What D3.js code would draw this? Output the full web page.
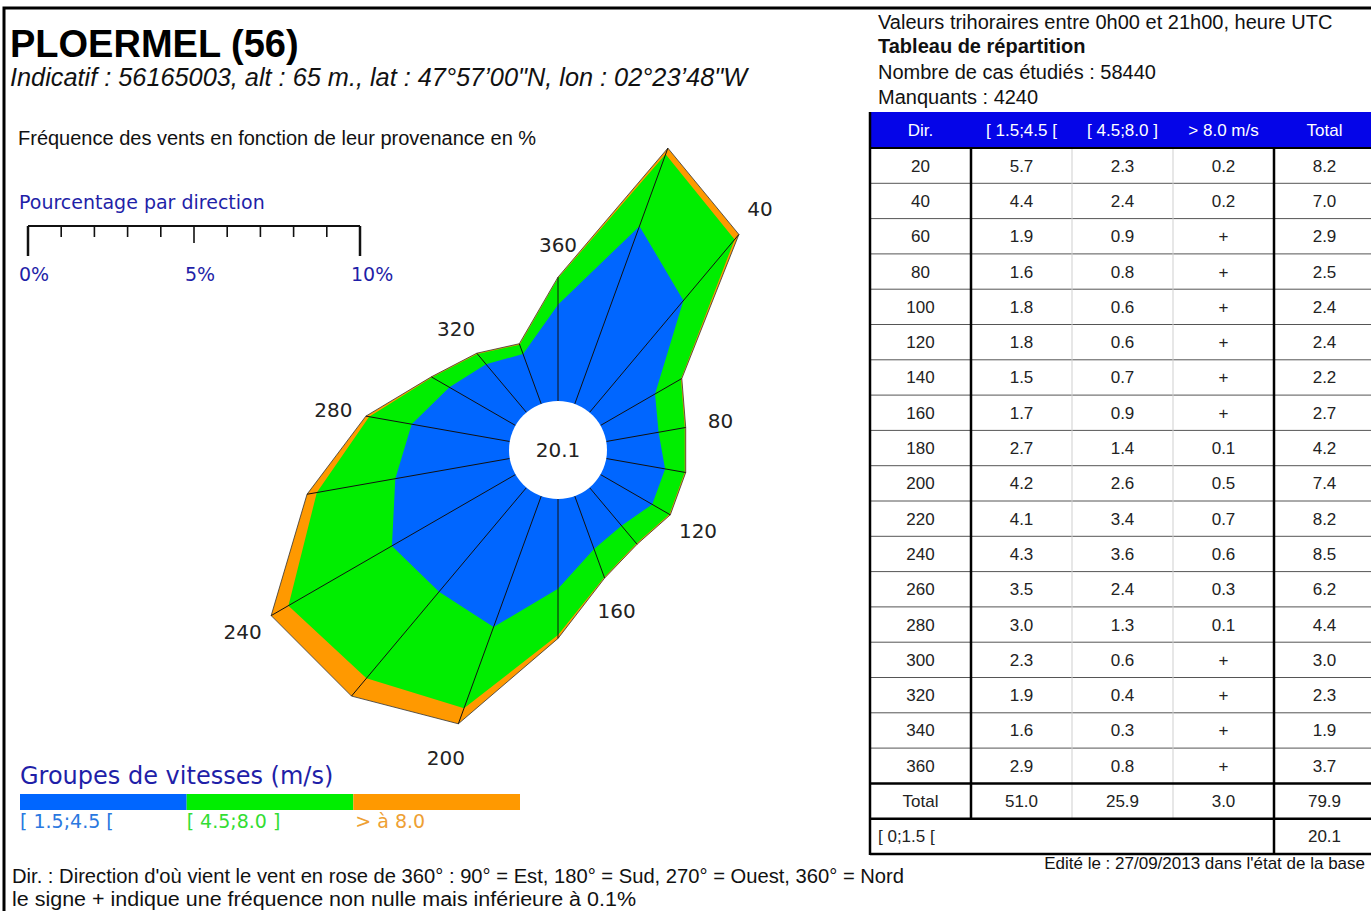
<!DOCTYPE html>
<html>
<head>
<meta charset="utf-8">
<script src="https://cdn.jsdelivr.net/npm/d3@7/dist/d3.min.js"></script>
<style>
  html, body { margin: 0; padding: 0; background: #fff; }
  svg { display: block; }
</style>
</head>
<body>
<svg id="chart" width="1371" height="911"></svg>
<script>
// ---------------- DATA ----------------
const directions = [20, 40, 60, 80, 100, 120, 140, 160, 180, 200, 220, 240, 260, 280, 300, 320, 340, 360];
const lowVals  = [5.7, 4.4, 1.9, 1.6, 1.8, 1.8, 1.5, 1.7, 2.7, 4.2, 4.1, 4.3, 3.5, 3.0, 2.3, 1.9, 1.6, 2.9];
const midVals  = [2.3, 2.4, 0.9, 0.8, 0.6, 0.6, 0.7, 0.9, 1.4, 2.6, 3.4, 3.6, 2.4, 1.3, 0.6, 0.4, 0.3, 0.8];
const highVals = [0.2, 0.2, 0.03, 0.03, 0.03, 0.03, 0.03, 0.03, 0.1, 0.5, 0.7, 0.6, 0.3, 0.1, 0.03, 0.03, 0.03, 0.03];
const highLabels = ["0.2", "0.2", "+", "+", "+", "+", "+", "+", "0.1", "0.5", "0.7", "0.6", "0.3", "0.1", "+", "+", "+", "+"];
const totalVals = [8.2, 7.0, 2.9, 2.5, 2.4, 2.4, 2.2, 2.7, 4.2, 7.4, 8.2, 8.5, 6.2, 4.4, 3.0, 2.3, 1.9, 3.7];
const columnTotals = ["51.0", "25.9", "3.0", "79.9"];
const calmValue = "20.1";
const tableHeaders = ["Dir.", "[ 1.5;4.5 [", "[ 4.5;8.0 ]", "> 8.0 m/s", "Total"];
const labelDirs = [40, 80, 120, 160, 200, 240, 280, 320, 360];
const scaleTicks = [0, 1, 2, 3, 4, 5, 6, 7, 8, 9, 10];
const scaleLabels = [0, 5, 10];
const speedGroups = ["[ 1.5;4.5 [", "[ 4.5;8.0 ]", "> à 8.0"];
const speedColors = ["#0066ff", "#00ee00", "#ff9900"];
const speedTextColors = ["#2a78e0", "#33dd33", "#eea033"];

// ---------------- SETUP ----------------
const svg = d3.select("#chart");
const SANS = "'Liberation Sans', Arial, sans-serif";
const DJV = "'DejaVu Sans', Verdana, sans-serif";

// frame
svg.append("path").attr("d", "M4,911 L4,8 L1371,8")
  .attr("fill", "none").attr("stroke", "#000").attr("stroke-width", 3);

// titles
svg.append("text").attr("x", 10).attr("y", 57).text("PLOERMEL (56)")
  .attr("font-family", SANS).attr("font-weight", "bold").attr("font-size", 38).attr("fill", "#000");
svg.append("text").attr("x", 10).attr("y", 86)
  .text("Indicatif : 56165003, alt : 65 m., lat : 47°57’00\"N, lon : 02°23’48\"W")
  .attr("font-family", SANS).attr("font-style", "italic").attr("font-size", 25.3).attr("fill", "#111");
svg.append("text").attr("x", 18).attr("y", 145)
  .text("Fréquence des vents en fonction de leur provenance en %")
  .attr("font-family", SANS).attr("font-size", 20).attr("fill", "#111");

// ---------------- ROSE ----------------
const cx = 558, cy = 450;
const r = d3.scaleLinear().domain([0, 10]).range([49, 381]);
const rad = d => d * Math.PI / 180;
const pt = (dir, v) => [cx + r(v) * Math.sin(rad(dir)), cy - r(v) * Math.cos(rad(dir))];

const cumLow = lowVals;
const cumMid = lowVals.map((v, i) => v + midVals[i]);
const cumHigh = cumMid.map((v, i) => v + highVals[i]);

const line = d3.line().curve(d3.curveLinearClosed);
const rose = svg.append("g");
const layers = [cumHigh, cumMid, cumLow];
const layerColors = [speedColors[2], speedColors[1], speedColors[0]];
layers.forEach((arr, k) => {
  rose.append("path")
    .attr("d", line(directions.map((d, i) => pt(d, arr[i]))))
    .attr("fill", layerColors[k])
    .attr("stroke", k === 0 ? "#333" : "none")
    .attr("stroke-width", 0.8);
});
// radial lines
rose.selectAll("line.rad").data(directions).join("line")
  .attr("x1", (d) => pt(d, 0)[0]).attr("y1", (d) => pt(d, 0)[1])
  .attr("x2", (d, i) => pt(d, cumHigh[i])[0]).attr("y2", (d, i) => pt(d, cumHigh[i])[1])
  .attr("stroke", "#111").attr("stroke-width", 1);
// center hole
rose.append("circle").attr("cx", cx).attr("cy", cy).attr("r", r(0)).attr("fill", "#fff");
rose.append("text").attr("x", cx).attr("y", cy + 7).attr("text-anchor", "middle")
  .text(calmValue).attr("font-family", DJV).attr("font-size", 20).attr("fill", "#222");
// direction labels
const labelR = d => r(totalVals[directions.indexOf(d)]) + 33;
rose.selectAll("text.dl").data(labelDirs).join("text")
  .attr("x", d => cx + labelR(d) * Math.sin(rad(d)))
  .attr("y", d => cy - labelR(d) * Math.cos(rad(d)) + 7)
  .attr("text-anchor", "middle").text(d => d)
  .attr("font-family", DJV).attr("font-size", 20).attr("fill", "#222");

// ---------------- SCALE BAR ----------------
const sx = d3.scaleLinear().domain([0, 10]).range([28, 360]);
const blue = "#1f1fa8";
svg.append("text").attr("x", 19).attr("y", 209).text("Pourcentage par direction")
  .attr("font-family", DJV).attr("font-size", 19).attr("fill", blue);
svg.append("line").attr("x1", sx(0)).attr("x2", sx(10)).attr("y1", 226).attr("y2", 226)
  .attr("stroke", "#111").attr("stroke-width", 2);
svg.selectAll("line.tk").data(scaleTicks).join("line")
  .attr("x1", d => sx(d)).attr("x2", d => sx(d)).attr("y1", 226)
  .attr("y2", d => (d === 0 || d === 10) ? 256 : (d === 5 ? 243 : 237))
  .attr("stroke", "#111").attr("stroke-width", d => (d === 0 || d === 10) ? 2.5 : 1.6);
svg.selectAll("text.sl").data(scaleLabels).join("text")
  .attr("x", d => sx(d) - 9).attr("y", 281).text(d => d + "%")
  .attr("font-family", DJV).attr("font-size", 19).attr("fill", blue);

// ---------------- LEGEND ----------------
svg.append("text").attr("x", 20).attr("y", 784).text("Groupes de vitesses (m/s)")
  .attr("font-family", DJV).attr("font-size", 24).attr("fill", blue);
const lx = d3.scaleBand().domain(speedGroups).range([20, 520]);
svg.selectAll("rect.lg").data(speedGroups).join("rect")
  .attr("x", d => lx(d)).attr("y", 794).attr("width", lx.bandwidth()).attr("height", 16)
  .attr("fill", (d, i) => speedColors[i]);
svg.selectAll("text.lg").data(speedGroups).join("text")
  .attr("x", (d, i) => lx(d) + (i === 2 ? 2 : 0)).attr("y", 828).text(d => d)
  .attr("font-family", DJV).attr("font-size", 19).attr("fill", (d, i) => speedTextColors[i]);

// ---------------- TABLE ----------------
const tx = 878;
svg.append("text").attr("x", tx).attr("y", 29).text("Valeurs trihoraires entre 0h00 et 21h00, heure UTC")
  .attr("font-family", SANS).attr("font-size", 20).attr("fill", "#111");
svg.append("text").attr("x", tx).attr("y", 53).text("Tableau de répartition")
  .attr("font-family", SANS).attr("font-weight", "bold").attr("font-size", 20).attr("fill", "#111");
svg.append("text").attr("x", tx).attr("y", 79).text("Nombre de cas étudiés : 58440")
  .attr("font-family", SANS).attr("font-size", 20).attr("fill", "#111");
svg.append("text").attr("x", tx).attr("y", 104).text("Manquants : 4240")
  .attr("font-family", SANS).attr("font-size", 20).attr("fill", "#111");

const colX = d3.scaleBand().domain(d3.range(5)).range([870, 1375]);
const headTop = 112, headBot = 148;
const rowH = (854 - headBot) / 20;
const rowY = i => headBot + i * rowH;
const tbl = svg.append("g");

tbl.append("rect").attr("x", 870).attr("y", headTop).attr("width", 505).attr("height", headBot - headTop)
  .attr("fill", "#0505e8");
tbl.selectAll("text.hd").data(tableHeaders).join("text")
  .attr("x", (d, i) => colX(i) + colX.bandwidth() / 2).attr("y", headTop + 24)
  .attr("text-anchor", "middle").text(d => d)
  .attr("font-family", SANS).attr("font-size", 17).attr("fill", "#fff");

// row separators
tbl.selectAll("line.rs").data(d3.range(1, 18)).join("line")
  .attr("x1", 870).attr("x2", 1375).attr("y1", i => rowY(i)).attr("y2", i => rowY(i))
  .attr("stroke", "#555").attr("stroke-width", 1);
// light verticals
[2, 3].forEach(c => {
  tbl.append("line").attr("x1", colX(c)).attr("x2", colX(c)).attr("y1", headBot).attr("y2", rowY(19))
    .attr("stroke", "#cfcfcf").attr("stroke-width", 1);
});

// rows
const rowsData = directions.map((d, i) => [d, lowVals[i].toFixed(1), midVals[i].toFixed(1), highLabels[i], totalVals[i].toFixed(1)]);
rowsData.push(["Total"].concat(columnTotals));
rowsData.forEach((row, ri) => {
  row.forEach((cell, ci) => {
    tbl.append("text").attr("x", colX(ci) + colX.bandwidth() / 2).attr("y", rowY(ri) + rowH / 2 + 6)
      .attr("text-anchor", "middle").text(cell)
      .attr("font-family", SANS).attr("font-size", 17).attr("fill", "#222");
  });
});
tbl.append("text").attr("x", 878).attr("y", rowY(19) + rowH / 2 + 6).text("[ 0;1.5 [")
  .attr("font-family", SANS).attr("font-size", 17).attr("fill", "#222");
tbl.append("text").attr("x", colX(4) + colX.bandwidth() / 2).attr("y", rowY(19) + rowH / 2 + 6)
  .attr("text-anchor", "middle").text(calmValue)
  .attr("font-family", SANS).attr("font-size", 17).attr("fill", "#222");

// thick lines
const thick = (x1, y1, x2, y2, w) => tbl.append("line").attr("x1", x1).attr("y1", y1).attr("x2", x2).attr("y2", y2)
  .attr("stroke", "#000").attr("stroke-width", w || 2.5);
thick(870, headBot, 1375, headBot, 2);
thick(870, rowY(18), 1375, rowY(18));
thick(870, rowY(19), 1375, rowY(19));
thick(870, 854, 1375, 854);
thick(870, headTop, 870, 855);
thick(colX(1), headBot, colX(1), rowY(19));
thick(colX(4), headBot, colX(4), 855);

// ---------------- FOOTER ----------------
svg.append("text").attr("x", 1365).attr("y", 869).attr("text-anchor", "end")
  .text("Edité le : 27/09/2013 dans l'état de la base")
  .attr("font-family", SANS).attr("font-size", 17).attr("fill", "#111");
svg.append("text").attr("x", 12).attr("y", 883)
  .text("Dir. : Direction d'où vient le vent en rose de 360° : 90° = Est, 180° = Sud, 270° = Ouest, 360° = Nord")
  .attr("font-family", SANS).attr("font-size", 20).attr("textLength", 892).attr("lengthAdjust", "spacingAndGlyphs")
  .attr("fill", "#111");
svg.append("text").attr("x", 12).attr("y", 906)
  .text("le signe + indique une fréquence non nulle mais inférieure à 0.1%")
  .attr("font-family", SANS).attr("font-size", 20).attr("textLength", 624).attr("lengthAdjust", "spacingAndGlyphs")
  .attr("fill", "#111");
</script>
</body>
</html>
